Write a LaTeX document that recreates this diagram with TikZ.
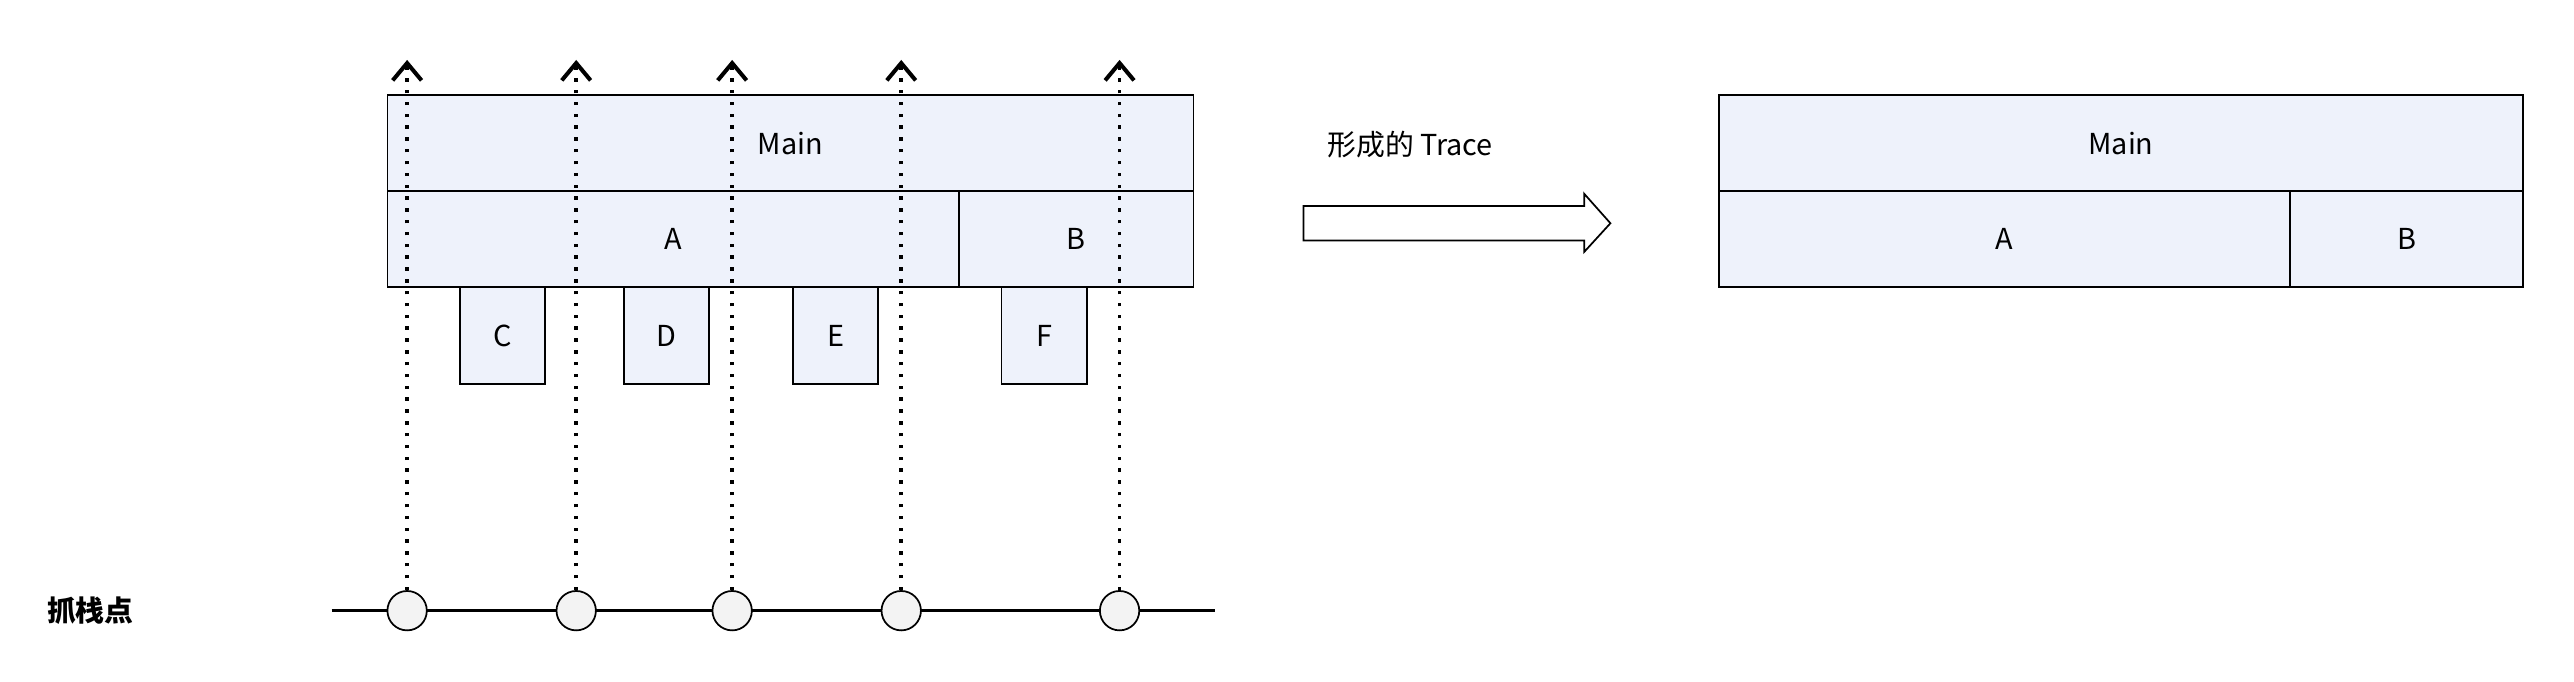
\documentclass[tikz,border=0pt]{standalone}
\usepackage{fontspec}
\setmainfont{Noto Sans CJK SC}
\usetikzlibrary{arrows.meta,positioning}
\definecolor{framefill}{RGB}{238,242,251}
\definecolor{dotfill}{RGB}{243,243,243}

\tikzset{
	frame/.style={draw=black, line width=0.6pt, fill=framefill, inner sep=0pt,
		minimum height=1.17cm, font=\fontsize{10}{12}\selectfont},
	call/.style={frame, minimum width=1.04cm, minimum height=1.18cm},
	probe/.style={line width=1.3pt, dash pattern=on 1.2pt off 2.9pt,
		-{Straight Barb[length=6pt,width=10pt,line width=1.4pt]}},
	sample/.style={circle, draw=black, line width=0.6pt, fill=dotfill,
		minimum size=0.48cm, inner sep=0pt},
	axis/.style={line width=1.1pt},
	caption/.style={font=\fontsize{10}{12}\selectfont},
}

\begin{document}
\begin{tikzpicture}
	\useasboundingbox (0,0) rectangle (31.36,8.3);

	% call stack while sampling
	\node[frame, minimum width=9.82cm] (main) at (9.63,6.555) {Main};
	\node[frame, minimum width=6.96cm] (a) at (8.20,5.385) {A};
	\node[frame, minimum width=2.86cm] (b) at (13.11,5.385) {B};
	\node[call] (c) at (6.12,4.21) {C};
	\node[call] (d) at (8.12,4.21) {D};
	\node[call] (e) at (10.18,4.21) {E};
	\node[call] (f) at (12.72,4.21) {F};

	% time axis with the sampling points
	\coordinate (l0) at (4.04,0.86);
	\coordinate (l1) at (14.80,0.86);
	\draw[axis] (l0) -- (l1);
	\node[caption, font=\fontsize{10}{12}\selectfont\bfseries] (grab) at (1.10,0.86) {抓栈点};

	\foreach \i/\x in {1/4.96, 2/7.02, 3/8.92, 4/10.98, 5/13.64} {
		\coordinate (t\i) at (\x,7.57);
		\node[sample] (p\i) at (\x,0.86) {};
		\draw[probe] (p\i) -- (t\i);
	}

	% result
	\draw[line width=0.6pt] (15.88,5.79) -- (19.30,5.79) -- (19.30,5.94) -- (19.62,5.58)
		-- (19.30,5.23) -- (19.30,5.37) -- (15.88,5.37) -- cycle;
	\node[caption] (trace) at (17.18,6.54) {形成的 Trace};

	\node[frame, minimum width=9.80cm] (main2) at (25.84,6.555) {Main};
	\node[frame, minimum width=6.96cm] (a2) at (24.42,5.385) {A};
	\node[frame, minimum width=2.84cm] (b2) at (29.32,5.385) {B};

\end{tikzpicture}
\end{document}
